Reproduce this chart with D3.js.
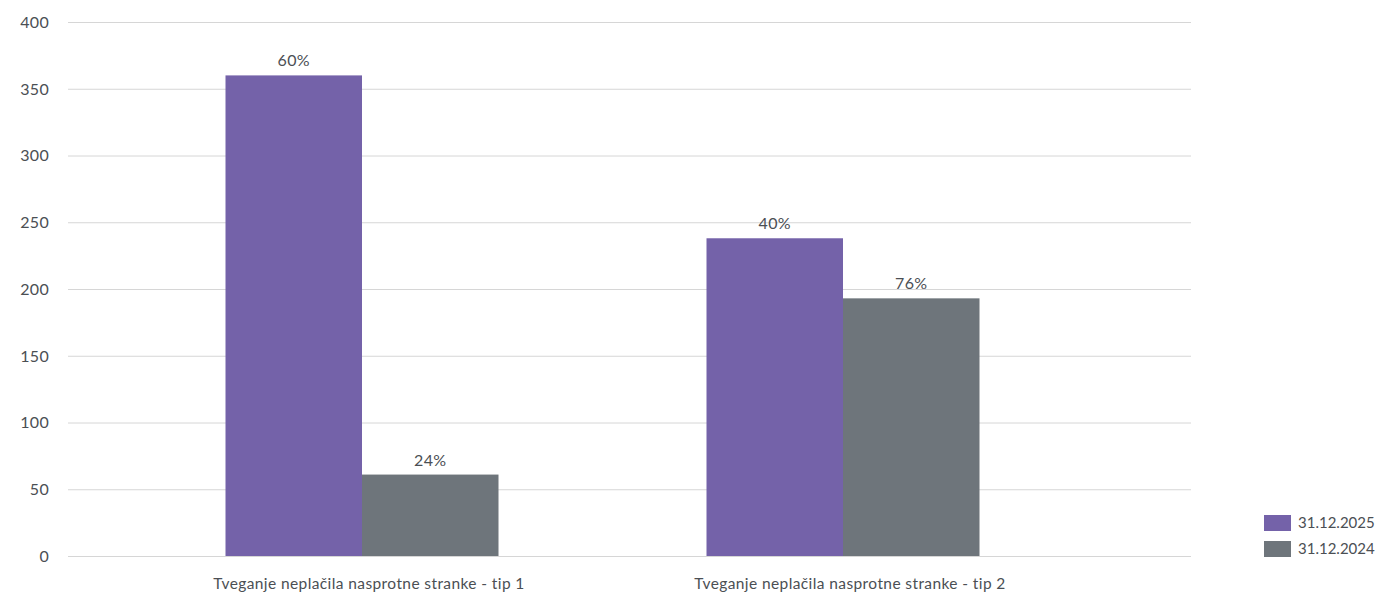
<!DOCTYPE html>
<html>
<head>
<meta charset="utf-8">
<script src="https://cdn.jsdelivr.net/npm/d3@7"></script>
<style>
  body { margin: 0; background: #fff; }
  svg text { font-family: Lato, "Open Sans", sans-serif; fill: #4b4f54; }
</style>
</head>
<body>
<svg id="chart" width="1380" height="594"></svg>
<script>
const categories = [
  "Tveganje neplačila nasprotne stranke - tip 1",
  "Tveganje neplačila nasprotne stranke - tip 2"
];
const seriesNames = ["31.12.2025", "31.12.2024"];
const values2025 = [360, 238];
const values2024 = [61, 193];
const yTicks = [0, 50, 100, 150, 200, 250, 300, 350, 400];
const colors = ["#7462a9", "#6e757b"];

const seriesValues = [values2025, values2024];
const svg = d3.select("#chart");

const gridLeft = 68, gridRight = 1191;
const y = d3.scaleLinear().domain([0, 400]).range([556, 22]);
const x0 = d3.scaleBand().domain(categories).range([121.5, 1083.5]).paddingInner(0).paddingOuter(0);
const x1 = d3.scaleBand().domain(seriesNames).range([0, 273]);
const groupOffset = (x0.bandwidth() - 273) / 2;

// horizontal gridlines
svg.append("g").selectAll("line").data(yTicks).join("line")
  .attr("x1", gridLeft).attr("x2", gridRight)
  .attr("y1", d => y(d) + 0.5).attr("y2", d => y(d) + 0.5)
  .attr("stroke", "#d6d6d6").attr("stroke-width", 1);

// y axis labels
const yAxis = d3.axisLeft(y).tickValues(yTicks).tickSize(0).tickPadding(0);
const gy = svg.append("g").attr("transform", "translate(49,0)").call(yAxis);
gy.select(".domain").remove();
gy.selectAll("text").style("font-size", "16px").style("letter-spacing", "0.3px").attr("dy", "0.34em");

// bars with share-of-series labels
const totals = seriesValues.map(v => d3.sum(v));
const pct = d3.format(".0%");
seriesNames.forEach((s, si) => {
  const g = svg.append("g");
  g.selectAll("rect").data(categories).join("rect")
    .attr("x", c => x0(c) + groupOffset + x1(s))
    .attr("y", (c, i) => y(seriesValues[si][i]))
    .attr("width", x1.bandwidth())
    .attr("height", (c, i) => y(0) - y(seriesValues[si][i]))
    .attr("fill", colors[si]);
  g.selectAll("text").data(categories).join("text")
    .attr("x", c => x0(c) + groupOffset + x1(s) + x1.bandwidth() / 2)
    .attr("y", (c, i) => y(seriesValues[si][i]) - 9)
    .attr("text-anchor", "middle")
    .style("font-size", "16px")
    .style("letter-spacing", "0.3px")
    .text((c, i) => pct(seriesValues[si][i] / totals[si]));
});

// category labels
const xAxis = d3.axisBottom(x0).tickSize(0).tickPadding(0);
const gx = svg.append("g").attr("transform", "translate(7,589)").call(xAxis);
gx.select(".domain").remove();
gx.selectAll("text").style("font-size", "15.5px").style("letter-spacing", "0.4px").attr("dy", "0");

// legend
const legend = svg.append("g").attr("transform", "translate(1264,515)");
seriesNames.forEach((s, i) => {
  legend.append("rect").attr("x", 0).attr("y", i * 26).attr("width", 27).attr("height", 16).attr("fill", colors[i]);
  legend.append("text").attr("x", 34).attr("y", i * 26 + 8).attr("dy", "0.35em")
    .style("font-size", "15px").text(s);
});
</script>
</body>
</html>
